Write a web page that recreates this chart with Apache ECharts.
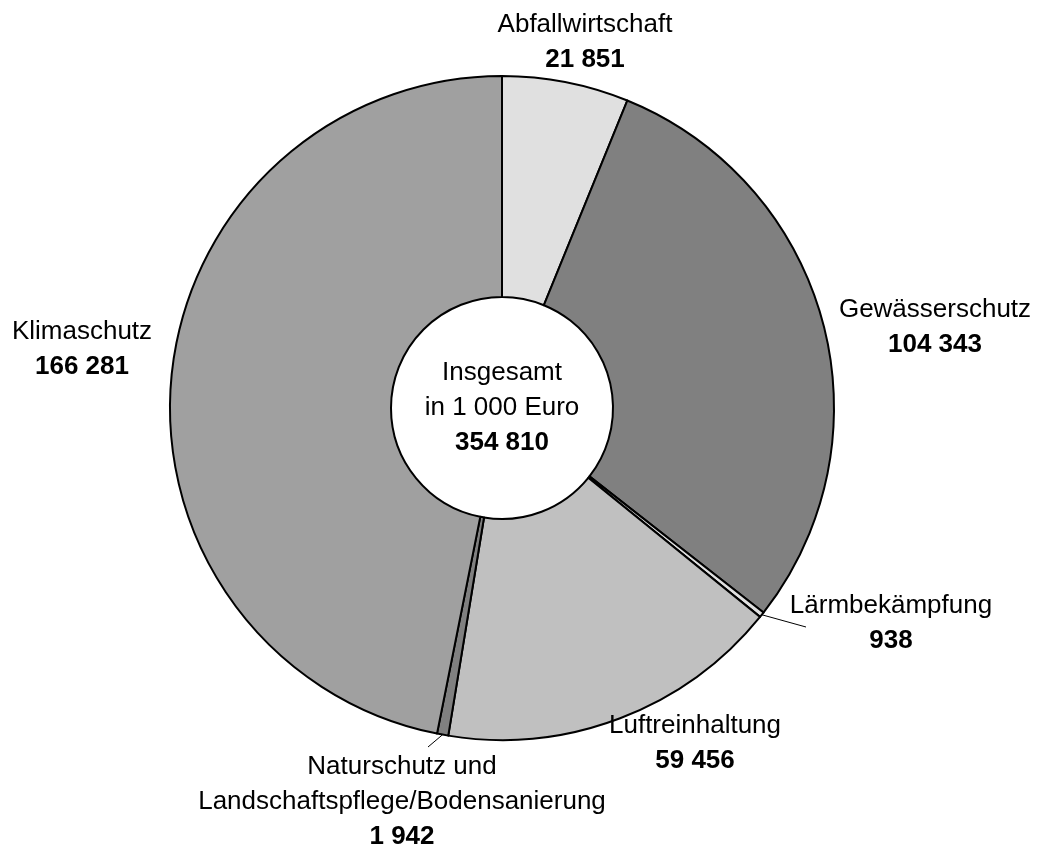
<!DOCTYPE html>
<html>
<head>
<meta charset="utf-8">
<script src="https://cdn.jsdelivr.net/npm/echarts@6/dist/echarts.min.js"></script>
<style>
  html, body { margin: 0; padding: 0; background: #fff; }
  #pie { width: 1037px; height: 850px; }
</style>
</head>
<body>
<div id="pie"></div>
<script>
// Werte in 1 000 Euro
const categories = [
  'Abfallwirtschaft',
  'Gewässerschutz',
  'Lärmbekämpfung',
  'Luftreinhaltung',
  'Naturschutz und\nLandschaftspflege/Bodensanierung',
  'Klimaschutz'
]
const values = [21851, 104343, 938, 59456, 1942, 166281]
const total = 354810

// Darstellung
const colors = ['#e0e0e0', '#808080', '#e0e0e0', '#c0c0c0', '#808080', '#a0a0a0']
const labelPos = [[585, 42], [935, 327], [891, 623], [695, 743], [402, 802], [82, 349]]
const leaderEnd = { 2: [806, 627], 4: [428, 747] }
const font = '"Liberation Sans", Arial, sans-serif'
const fontSize = 26

const fmt = (n) => String(n).replace(/\B(?=(\d{3})+(?!\d))/g, ' ')

const richText = {
  n: { fontFamily: font, fontSize: fontSize, lineHeight: 35, color: '#000' },
  v: { fontFamily: font, fontSize: fontSize, lineHeight: 35, fontWeight: 'bold', color: '#000' }
}

const chart = echarts.init(document.getElementById('pie'))

const seriesData = categories.map((name, i) => ({
  name: name,
  value: values[i],
  itemStyle: { color: colors[i] },
  labelLine: { show: leaderEnd[i] !== undefined }
}))

chart.setOption({
  animation: false,
  textStyle: { fontFamily: font },
  graphic: [{
    type: 'text',
    x: 502,
    y: 408,
    style: {
      text: '{n|Insgesamt}\n{n|in 1 000 Euro}\n{v|' + fmt(total) + '}',
      align: 'center',
      verticalAlign: 'middle',
      rich: richText
    },
    z: 100
  }],
  series: [{
    type: 'pie',
    center: [502, 408],
    radius: [111, 332],
    startAngle: 90,
    clockwise: true,
    avoidLabelOverlap: false,
    emphasis: { disabled: true },
    itemStyle: { borderColor: '#000', borderWidth: 2 },
    label: {
      show: true,
      position: 'outside',
      color: '#000',
      formatter: (p) => p.name.split('\n').map((s) => '{n|' + s + '}').join('\n') + '\n{v|' + fmt(p.value) + '}',
      rich: richText
    },
    labelLine: {
      show: false,
      smooth: false,
      lineStyle: { color: '#000', width: 1 }
    },
    labelLayout: (params) => {
      const i = params.dataIndex
      const out = {
        x: labelPos[i][0],
        y: labelPos[i][1],
        align: 'center',
        verticalAlign: 'middle'
      }
      if (leaderEnd[i] && params.labelLinePoints) {
        const start = params.labelLinePoints[0]
        out.labelLinePoints = [start, leaderEnd[i], leaderEnd[i]]
      }
      return out
    },
    data: seriesData
  }]
})
</script>
</body>
</html>
